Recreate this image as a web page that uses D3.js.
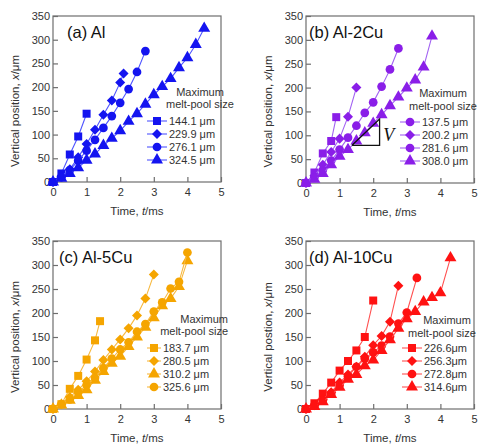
<!DOCTYPE html>
<html>
<head>
<meta charset="utf-8">
<script src="https://cdn.jsdelivr.net/npm/d3@7"></script>
<style>
  body { margin: 0; background: #fff; }
  svg { font-family: "Liberation Sans", Arial, sans-serif; }
</style>
</head>
<body>
<script>
// valeurs : temps (ms) et position verticale (µm)
const xTicks = [0, 1, 2, 3, 4, 5];
const yTicks = [0, 50, 100, 150, 200, 250, 300, 350];

// (a) Al
const alLabels = ["144.1 μm", "229.9 μm", "276.1 μm", "324.5 μm"];
const alShapes = ["square", "diamond", "circle", "triangle"];
const alTimes = [
  [0, 0.25, 0.5, 0.75, 1.0],
  [0, 0.25, 0.5, 0.75, 1.0, 1.25, 1.5, 1.75, 2.0, 2.1],
  [0, 0.25, 0.5, 0.75, 1.0, 1.25, 1.5, 1.75, 2.0, 2.25, 2.5, 2.75],
  [0, 0.25, 0.5, 0.75, 1.0, 1.25, 1.5, 1.75, 2.0, 2.25, 2.5, 2.75, 3.0, 3.25, 3.5, 3.75, 4.0, 4.25, 4.5]
];
const alPositions = [
  [0, 18, 58, 96, 144],
  [0, 12, 27, 52, 80, 110, 142, 172, 210, 229],
  [0, 10, 25, 45, 66, 89, 114, 139, 167, 196, 232, 276],
  [0, 8, 18, 30, 46, 59, 77, 92, 108, 128, 144, 164, 184, 201, 218, 241, 262, 290, 324]
];

// (b) Al-2Cu
const cu2Labels = ["137.5 μm", "200.2 μm", "281.6 μm", "308.0 μm"];
const cu2Shapes = ["square", "diamond", "circle", "triangle"];
const cu2LegendShapes = ["circle", "diamond", "circle", "triangle"];
const cu2Times = [
  [0, 0.25, 0.5, 0.75, 0.9],
  [0, 0.25, 0.5, 0.75, 1.0, 1.25, 1.5],
  [0, 0.25, 0.5, 0.75, 1.0, 1.25, 1.5, 1.75, 2.0, 2.25, 2.5, 2.75],
  [0, 0.25, 0.5, 0.75, 1.0, 1.25, 1.5, 1.75, 2.0, 2.25, 2.5, 2.75, 3.0, 3.25, 3.5, 3.75]
];
const cu2Positions = [
  [0, 22, 62, 88, 138],
  [0, 15, 38, 65, 93, 139, 200],
  [0, 12, 27, 47, 70, 95, 120, 147, 169, 202, 238, 282],
  [0, 8, 20, 38, 56, 70, 88, 105, 125, 143, 162, 180, 199, 216, 243, 308]
];

// (c) Al-5Cu
const cu5Labels = ["183.7 μm", "280.5 μm", "310.2 μm", "325.6 μm"];
const cu5Shapes = ["square", "diamond", "triangle", "circle"];
const cu5Times = [
  [0, 0.25, 0.5, 0.75, 1.0, 1.25, 1.4],
  [0, 0.25, 0.5, 0.75, 1.0, 1.25, 1.5, 1.75, 2.0, 2.25, 2.5, 2.75, 3.0],
  [0, 0.25, 0.5, 0.75, 1.0, 1.25, 1.5, 1.75, 2.0, 2.25, 2.5, 2.75, 3.0, 3.25, 3.5, 3.75, 4.0],
  [0, 0.25, 0.5, 0.75, 1.0, 1.25, 1.5, 1.75, 2.0, 2.25, 2.5, 2.75, 3.0, 3.25, 3.5, 3.75, 4.0]
];
const cu5Positions = [
  [0, 10, 42, 69, 103, 143, 183],
  [0, 10, 25, 40, 58, 78, 102, 124, 145, 168, 195, 230, 280],
  [0, 8, 18, 28, 40, 60, 78, 95, 110, 130, 150, 170, 190, 215, 230, 255, 309],
  [0, 10, 20, 35, 50, 65, 85, 105, 124, 139, 161, 177, 203, 222, 251, 265, 326]
];

// (d) Al-10Cu
const cu10Labels = ["226.6μm", "256.3μm", "272.8μm", "314.6μm"];
const cu10Shapes = ["square", "diamond", "circle", "triangle"];
const cu10Times = [
  [0, 0.25, 0.5, 0.75, 1.0, 1.25, 1.5, 1.75, 2.0],
  [0, 0.25, 0.5, 0.75, 1.0, 1.25, 1.5, 1.75, 2.0, 2.25, 2.5, 2.75],
  [0, 0.25, 0.5, 0.75, 1.0, 1.25, 1.5, 1.75, 2.0, 2.25, 2.5, 2.75, 3.0, 3.3],
  [0, 0.25, 0.5, 0.75, 1.0, 1.25, 1.5, 1.75, 2.0, 2.25, 2.5, 2.75, 3.0, 3.25, 3.5, 3.75, 4.0, 4.3]
];
const cu10Positions = [
  [0, 12, 32, 55, 80, 100, 122, 150, 226],
  [0, 8, 20, 35, 55, 72, 88, 109, 133, 152, 182, 257],
  [0, 8, 18, 32, 50, 68, 88, 105, 118, 132, 151, 178, 201, 273],
  [0, 5, 15, 30, 45, 62, 72, 90, 102, 122, 144, 168, 188, 203, 223, 232, 242, 315]
];

// triangle de pente V dans (b)
const slopeTriangle = [[1.37, 79], [2.19, 79], [2.19, 134], [1.37, 79]];

// losange = carré tourné de 45°
const symboles = {
  square: d3.symbolSquare,
  diamond: d3.symbolDiamond2 || d3.symbolDiamond,
  circle: d3.symbolCircle,
  triangle: d3.symbolTriangle
};
const tailles = { square: 64, diamond: 64, circle: 60, triangle: 62 };

const svg = d3.select("body").append("svg")
  .attr("width", 480)
  .attr("height", 444);

function panneau(p) {
  const x = d3.scaleLinear().domain([0, 5]).range([p.x0, p.x1]);
  const y = d3.scaleLinear().domain([0, 350]).range([p.y1, p.y0]);
  const g = svg.append("g");

  // cadre
  g.append("rect")
    .attr("x", p.x0).attr("y", p.y0)
    .attr("width", p.x1 - p.x0).attr("height", p.y1 - p.y0)
    .attr("fill", "none").attr("stroke", "#6e6e6e").attr("stroke-width", 1.2);

  // axes, graduations vers l'intérieur
  const axeX = g.append("g")
    .attr("transform", "translate(0," + p.y1 + ")")
    .call(d3.axisTop(x).tickValues(xTicks).tickSize(5).tickFormat(d3.format("d")));
  axeX.selectAll("text").attr("y", 14).attr("dy", null)
    .style("font-size", "11px").attr("fill", "#333");
  const axeY = g.append("g")
    .attr("transform", "translate(" + p.x0 + ",0)")
    .call(d3.axisRight(y).tickValues(yTicks).tickSize(5));
  axeY.selectAll("text").attr("x", -3).attr("text-anchor", "end")
    .style("font-size", "11px").attr("fill", "#333");
  g.selectAll(".domain").remove();
  g.selectAll(".tick line").attr("stroke", "#6e6e6e").attr("stroke-width", 1.2);

  // titres des axes
  const ty = g.append("text")
    .attr("transform", "translate(" + p.labelX + "," + ((p.y0 + p.y1) / 2 + 12) + ") rotate(-90)")
    .attr("text-anchor", "middle").style("font-size", "11.5px").attr("fill", "#333");
  ty.append("tspan").text(p.yTitle);
  ty.append("tspan").style("font-style", "italic").text("x");
  ty.append("tspan").text("/μm");

  const tx = g.append("text")
    .attr("x", (p.x0 + p.x1) / 2).attr("y", p.y1 + 33)
    .attr("text-anchor", "middle").style("font-size", "11.5px").attr("fill", "#333");
  tx.append("tspan").text("Time, ");
  tx.append("tspan").style("font-style", "italic").text("t");
  tx.append("tspan").text("/ms");

  // courbes
  const ligne = d3.line().x(d => x(d[0])).y(d => y(d[1]));
  p.times.forEach(function(ts, i) {
    const pts = ts.map((t, j) => [t, p.positions[i][j]]);
    g.append("path")
      .attr("d", ligne(pts))
      .attr("fill", "none").attr("stroke", p.lineColor).attr("stroke-width", 1.1);
    g.selectAll(".m" + i).data(pts).enter().append("path")
      .attr("class", "m" + i)
      .attr("transform", d => "translate(" + x(d[0]) + "," + y(d[1]) + ")")
      .attr("d", d3.symbol().type(symboles[p.shapes[i]]).size(tailles[p.shapes[i]]))
      .attr("fill", p.color);
  });

  // titre du panneau
  g.append("text")
    .attr("x", p.x0 + p.titleDx).attr("y", p.y0 + 22)
    .style("font-size", "16.5px").attr("fill", "#111")
    .text(p.title);

  // légende
  const L = p.legend;
  g.append("text")
    .attr("x", p.x0 + L.cx).attr("y", p.y0 + L.y1)
    .attr("text-anchor", L.anchor).style("font-size", "11px").attr("fill", "#333")
    .text("Maximum");
  g.append("text")
    .attr("x", p.x0 + L.cx2).attr("y", p.y0 + L.y2)
    .attr("text-anchor", L.anchor).style("font-size", "11px").attr("fill", "#333")
    .text("melt-pool size");
  const formes = p.legendShapes || p.shapes;
  p.labels.forEach(function(lab, i) {
    const yy = p.y0 + L.rowY + i * 13;
    g.append("line")
      .attr("x1", p.x0 + L.lx0).attr("x2", p.x0 + L.lx1)
      .attr("y1", yy).attr("y2", yy)
      .attr("stroke", p.lineColor).attr("stroke-width", 1.1);
    g.append("path")
      .attr("transform", "translate(" + (p.x0 + (L.lx0 + L.lx1) / 2) + "," + yy + ")")
      .attr("d", d3.symbol().type(symboles[formes[i]]).size(tailles[formes[i]]))
      .attr("fill", p.color);
    g.append("text")
      .attr("x", p.x0 + L.lx1 + 2).attr("y", yy + 4)
      .style("font-size", "11px").attr("fill", "#333")
      .text(lab);
  });

  return { x: x, y: y, g: g };
}

panneau({
  x0: 53, x1: 221, y0: 16, y1: 182, labelX: 19, titleDx: 14,
  title: "(a) Al", yTitle: "Vertical position, ",
  color: "#1414f0", lineColor: "#4f55ff",
  labels: alLabels, shapes: alShapes, times: alTimes, positions: alPositions,
  legend: { cx: 147, cx2: 147, anchor: "middle", y1: 80, y2: 92, rowY: 105, lx0: 94, lx1: 114 }
});

const pb = panneau({
  x0: 306, x1: 474, y0: 16, y1: 183, labelX: 272, titleDx: 3,
  title: "(b) Al-2Cu", yTitle: "Vertical position, ",
  color: "#8a1ee8", lineColor: "#a262f2",
  labels: cu2Labels, shapes: cu2Shapes, legendShapes: cu2LegendShapes,
  times: cu2Times, positions: cu2Positions,
  legend: { cx: 137, cx2: 137, anchor: "middle", y1: 81, y2: 94, rowY: 106, lx0: 94, lx1: 114 }
});

// triangle de pente et V
pb.g.append("path")
  .attr("d", d3.line().x(d => pb.x(d[0])).y(d => pb.y(d[1]))(slopeTriangle))
  .attr("fill", "none").attr("stroke", "#111").attr("stroke-width", 1.3);
pb.g.append("text")
  .attr("x", pb.x(2.3)).attr("y", pb.y(88))
  .style("font-family", "'Liberation Serif', serif").style("font-style", "italic")
  .style("font-size", "18px").attr("fill", "#111")
  .text("V");

panneau({
  x0: 53, x1: 221, y0: 241, y1: 409, labelX: 19, titleDx: 6,
  title: "(c) Al-5Cu", yTitle: "Vertical position, ",
  color: "#f5a500", lineColor: "#f7b940",
  labels: cu5Labels, shapes: cu5Shapes, times: cu5Times, positions: cu5Positions,
  legend: { cx: 175, cx2: 175, anchor: "end", y1: 82, y2: 94, rowY: 107, lx0: 94, lx1: 108 }
});

panneau({
  x0: 306, x1: 474, y0: 241, y1: 409, labelX: 272, titleDx: 3,
  title: "(d) Al-10Cu", yTitle: "Vertical postion, ",
  color: "#ff1212", lineColor: "#ff5050",
  labels: cu10Labels, shapes: cu10Shapes, times: cu10Times, positions: cu10Positions,
  legend: { cx: 141, cx2: 136, anchor: "middle", y1: 83, y2: 96, rowY: 107, lx0: 96, lx1: 116 }
});
</script>
</body>
</html>
